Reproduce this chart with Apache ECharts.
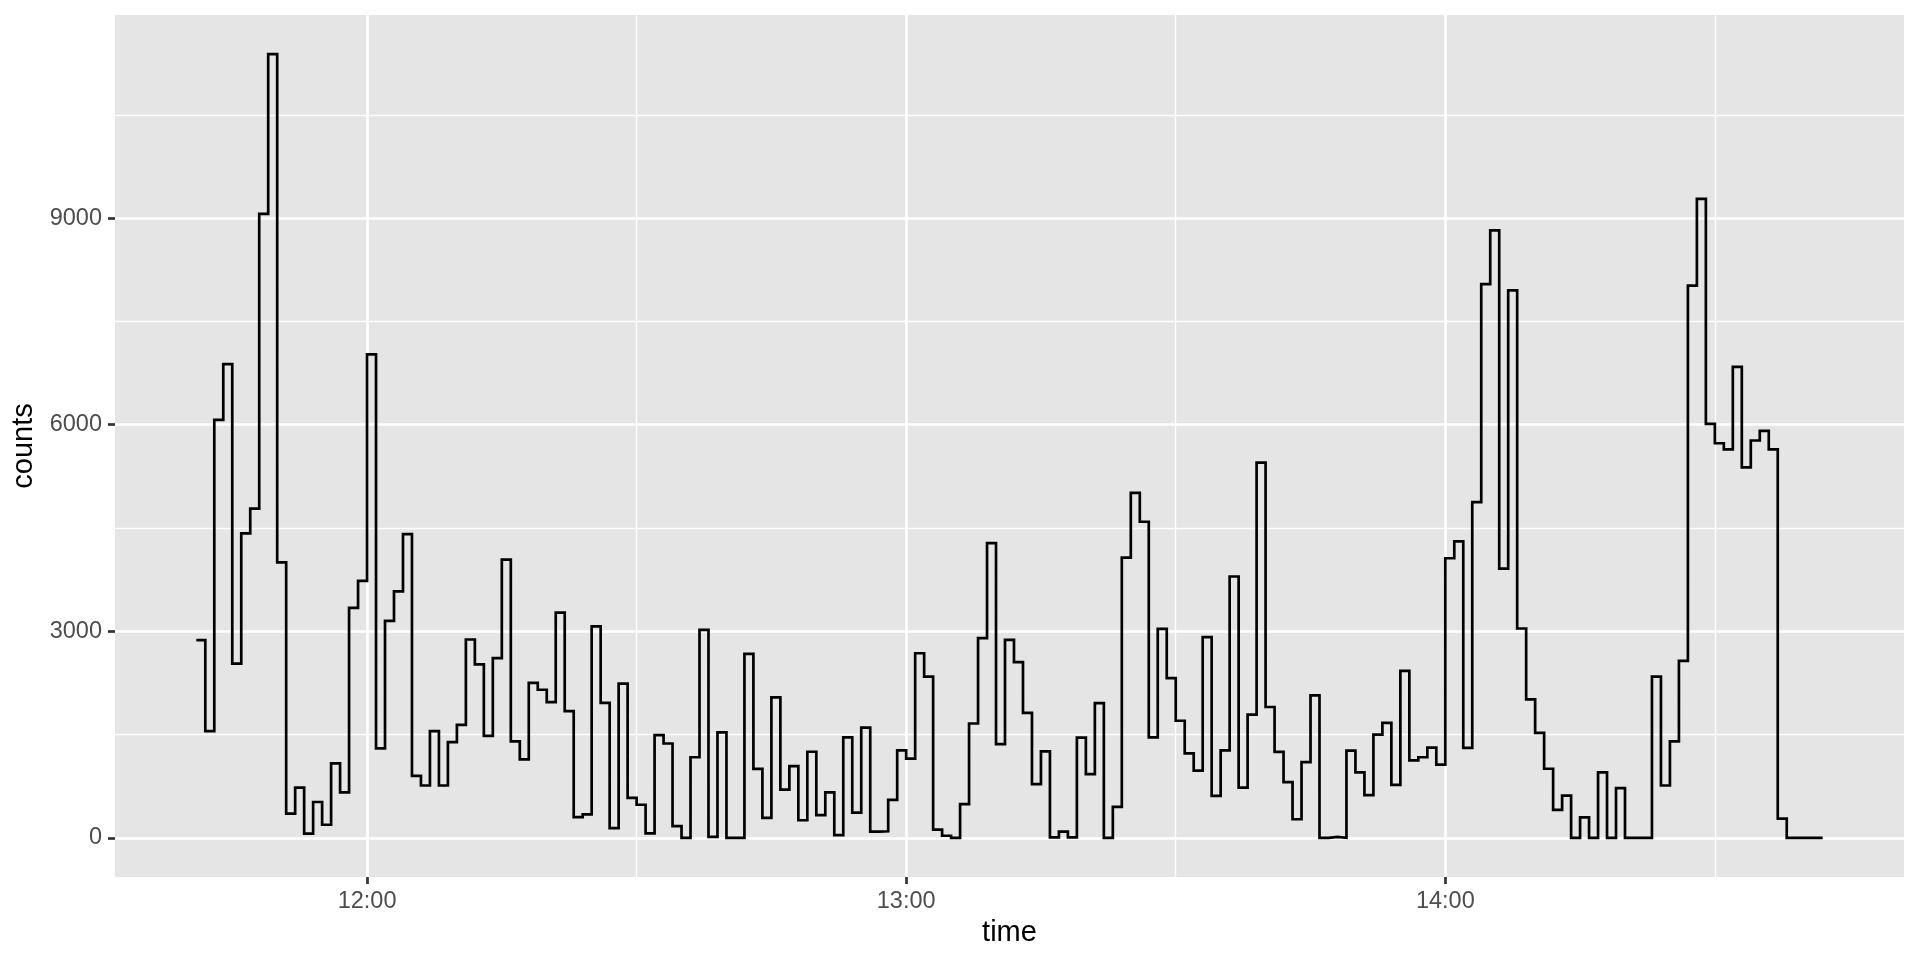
<!DOCTYPE html>
<html>
<head>
<meta charset="utf-8">
<script src="https://cdn.jsdelivr.net/npm/echarts@6/dist/echarts.min.js"></script>
<style>
  html, body { margin: 0; padding: 0; background: #ffffff; }
  #chart { width: 1920px; height: 960px; }
</style>
</head>
<body>
<div id="chart"></div>
<script>
// ---- data (one reading per minute, starting at startTime) ----
const startTime = "11:41";
const counts = [
  2870, 1550, 6070, 6880, 2530, 4420, 4780, 9060, 11380, 4000,
  350, 730, 60, 520, 190, 1080, 660, 3340, 3730, 7020,
  1300, 3150, 3580, 4410, 900, 760, 1550, 760, 1390, 1640,
  2880, 2520, 1480, 2610, 4040, 1400, 1140, 2250, 2150, 1970,
  3270, 1840, 300, 340, 3070, 1960, 140, 2240, 580, 480,
  65, 1490, 1370, 170, 0, 1170, 3020, 15, 1530, 0,
  0, 2670, 1000, 290, 2040, 700, 1040, 255, 1250, 330,
  660, 40, 1460, 365, 1600, 90, 95, 550, 1270, 1150,
  2680, 2340, 120, 30, 0, 490, 1660, 2900, 4280, 1360,
  2875, 2550, 1815, 780, 1256, 5, 90, 5, 1455, 925,
  1955, 0, 450, 4070, 5010, 4590, 1460, 3035, 2320, 1700,
  1225, 975, 2915, 610, 1270, 3795, 730, 1790, 5450, 1900,
  1247, 808, 270, 1100, 2070, 0, 15, 0, 1266, 950,
  620, 1500, 1670, 770, 2425, 1125, 1170, 1310, 1062, 4060,
  4305, 1305, 4875, 8040, 8820, 3910, 7950, 3040, 2010, 1524,
  1003, 405, 614, 0, 297, 0, 950, 0, 721, 0,
  0, 0, 2340, 760, 1400, 2570, 8020, 9280, 6010, 5730,
  5640, 6840, 5380, 5770, 5910, 5640, 280, 0, 0, 0,
  0, 0
];
const majorTimeTicks = ["12:00", "13:00", "14:00"];
const minorTimeTicks = ["12:30", "13:30", "14:30"];
const majorCountTicks = [0, 3000, 6000, 9000];
const minorCountTicks = [1500, 4500, 7500, 10500];

// ---- helpers ----
function toMin(s) { const p = s.split(":"); return +p[0] * 60 + +p[1]; }
function toLabel(v) {
  const h = Math.floor(v / 60), m = Math.round(v - h * 60);
  return h + ":" + (m < 10 ? "0" + m : m);
}
const t0 = toMin(startTime);
const points = counts.map((c, i) => [t0 + i, c]);

// ggplot-style 5% expansion
const xLo = t0, xHi = t0 + counts.length - 1;
const xPad = (xHi - xLo) * 0.05;
const yHi = Math.max.apply(null, counts), yLo = 0;
const yPad = (yHi - yLo) * 0.05;

const FONT = "'Liberation Sans', Arial, Helvetica, sans-serif";
const majorW = 2.7, minorW = 1.4;

const chart = echarts.init(document.getElementById('chart'), null, { renderer: 'canvas' });
chart.setOption({
  animation: false,
  backgroundColor: '#ffffff',
  grid: {
    left: 115, right: 16, top: 15, bottom: 83,
    show: true, backgroundColor: '#E5E5E5', borderWidth: 0,
    containLabel: false
  },
  xAxis: [
    {
      type: 'value', position: 'bottom',
      min: xLo - xPad, max: xHi + xPad,
      name: 'time', nameLocation: 'middle', nameGap: 40,
      nameTextStyle: { color: '#000000', fontSize: 29, fontFamily: FONT },
      axisLine: { show: false, onZero: false },
      axisTick: { show: true, length: 7, lineStyle: { color: '#333333', width: majorW },
                  customValues: majorTimeTicks.map(toMin) },
      axisLabel: { show: true, margin: 13, color: '#4D4D4D', fontSize: 23.5, fontFamily: FONT,
                   customValues: majorTimeTicks.map(toMin), formatter: toLabel },
      splitLine: { show: true, lineStyle: { color: '#ffffff', width: majorW } },
      minorSplitLine: { show: false }
    },
    {
      type: 'value', position: 'top',
      min: xLo - xPad, max: xHi + xPad,
      axisLine: { show: false, onZero: false },
      axisTick: { show: false, customValues: minorTimeTicks.map(toMin) },
      axisLabel: { show: false, customValues: minorTimeTicks.map(toMin) },
      splitLine: { show: true, lineStyle: { color: '#ffffff', width: minorW } }
    }
  ],
  yAxis: [
    {
      type: 'value', position: 'left',
      min: yLo - yPad, max: yHi + yPad,
      name: 'counts', nameLocation: 'middle', nameGap: 73, nameRotate: 90,
      nameTextStyle: { color: '#000000', fontSize: 29, fontFamily: FONT },
      axisLine: { show: false, onZero: false },
      axisTick: { show: true, length: 7, lineStyle: { color: '#333333', width: majorW },
                  customValues: majorCountTicks },
      axisLabel: { show: true, margin: 13, color: '#4D4D4D', fontSize: 23.5, fontFamily: FONT,
                   customValues: majorCountTicks, formatter: v => String(v) },
      splitLine: { show: true, lineStyle: { color: '#ffffff', width: majorW } }
    },
    {
      type: 'value', position: 'right',
      min: yLo - yPad, max: yHi + yPad,
      axisLine: { show: false, onZero: false },
      axisTick: { show: false, customValues: minorCountTicks },
      axisLabel: { show: false, customValues: minorCountTicks },
      splitLine: { show: true, lineStyle: { color: '#ffffff', width: minorW } }
    }
  ],
  series: [
    {
      type: 'line',
      xAxisIndex: 0, yAxisIndex: 0,
      step: 'end',
      data: points,
      showSymbol: false, symbol: 'none',
      lineStyle: { color: '#000000', width: 2.7, join: 'miter', cap: 'butt' },
      z: 5
    }
  ]
});
</script>
</body>
</html>
